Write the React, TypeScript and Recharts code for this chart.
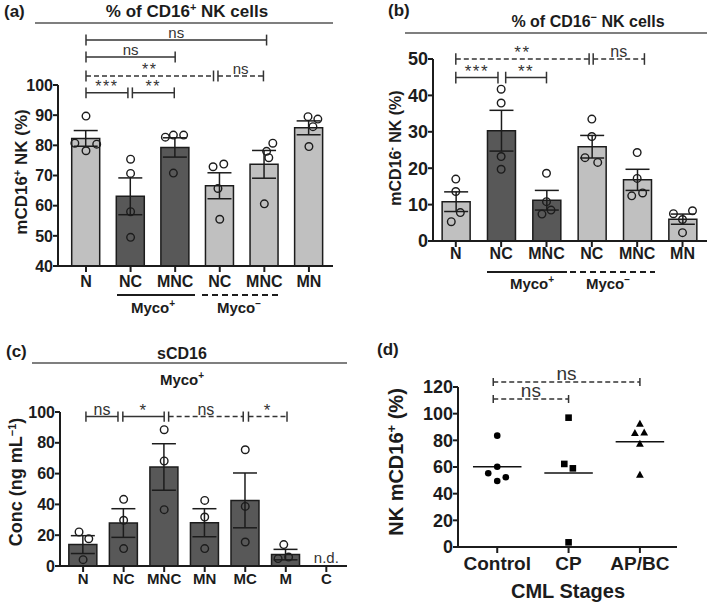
import React from 'react';
import { ComposedChart, Bar, Cell, ErrorBar, Scatter, XAxis, YAxis, ReferenceLine, ReferenceDot } from 'recharts';

const FONT = '"Liberation Sans", Arial, Helvetica, sans-serif';
const INK = '#1c1c1c';
const LINE = '#333333';
const LIGHT = '#c0c0c0';
const DARK = '#585858';

// ---------- (a) % of CD16+ NK cells ----------
const aCategories = ['N', 'NC', 'MNC', 'NC', 'MNC', 'MN'];
const aShades = ['light', 'dark', 'dark', 'light', 'light', 'light'];
const aMeans = [82.3, 63.1, 79.3, 66.6, 73.7, 85.8];
const aSem = [2.6, 6.1, 3.2, 4.3, 4.6, 2.3];
const aPoints = [
  [89.7, 80.7, 78.2, 80.4],
  [75.4, 70.7, 58.0, 49.5],
  [82.7, 83.4, 83.4, 70.8],
  [72.9, 73.8, 65.7, 55.5],
  [80.7, 78.0, 75.9, 60.6],
  [89.5, 88.7, 86.2, 79.6],
];
const aJitter = [
  [0, -0.25, 0, 0.24],
  [0, 0, 0, 0],
  [-0.22, -0.04, 0.19, -0.04],
  [-0.15, 0.09, -0.04, 0],
  [0.19, 0.05, 0.1, 0],
  [-0.02, 0.2, 0.09, 0],
];
const aBrackets = [
  { from: 0, to: 4.05, y: 114.9, text: 'ns', dashed: false },
  { from: 0, to: 2.0, y: 109.3, text: 'ns', dashed: false },
  { from: 0, to: 2.86, y: 103.0, text: '**', dashed: true },
  { from: 2.96, to: 3.98, y: 103.0, text: 'ns', dashed: true },
  { from: 0, to: 0.94, y: 97.4, text: '***', dashed: false },
  { from: 1.04, to: 1.98, y: 97.4, text: '**', dashed: false },
];
const aYTicks = [40, 50, 60, 70, 80, 90, 100];

// ---------- (b) % of CD16- NK cells ----------
const bCategories = ['N', 'NC', 'MNC', 'NC', 'MNC', 'MN'];
const bShades = ['light', 'dark', 'dark', 'light', 'light', 'light'];
const bMeans = [10.8, 30.3, 11.2, 25.9, 16.8, 6.0];
const bSem = [2.7, 5.6, 2.7, 3.1, 2.9, 1.4];
const bPoints = [
  [17.0, 13.6, 7.8, 5.3],
  [41.7, 37.9, 23.2, 19.7],
  [18.6, 10.8, 8.5, 7.4],
  [33.5, 28.7, 22.9, 21.6],
  [24.3, 17.2, 12.4, 13.2],
  [7.5, 8.3, 5.9, 2.3],
];
const bJitter = [
  [0, 0, 0.1, -0.1],
  [0, 0, 0, 0],
  [0, 0, 0.1, -0.1],
  [0, 0, -0.15, 0.13],
  [0, 0, -0.12, 0.12],
  [-0.2, 0.22, 0, 0],
];
const bBrackets = [
  { from: 0, to: 2.94, y: 50, text: '**', dashed: true },
  { from: 3.03, to: 4.16, y: 50, text: 'ns', dashed: true },
  { from: 0, to: 0.93, y: 44.9, text: '***', dashed: false },
  { from: 1.1, to: 2.0, y: 44.9, text: '**', dashed: false },
];
const bYTicks = [0, 10, 20, 30, 40, 50];

// ---------- (c) sCD16 ----------
const cCategories = ['N', 'NC', 'MNC', 'MN', 'MC', 'M', 'C'];
const cShades = ['dark', 'dark', 'dark', 'dark', 'dark', 'dark', 'dark'];
const cMeans = [13.9, 27.9, 64.3, 28.1, 42.6, 7.4, null];
const cSem = [5.8, 9.3, 15.1, 9.1, 17.8, 3.4, null];
const cPoints = [
  [22.1, 17.7, 4.1],
  [43.3, 29.7, 11.3],
  [88.5, 68.2, 36.6],
  [42.6, 31.8, 11.3],
  [75.5, 38.7, 15.6],
  [13.9, 4.8, 5.8],
  [],
];
const cJitter = [
  [-0.1, 0.14, 0],
  [0, 0, 0],
  [0, 0, 0],
  [0, 0, 0],
  [0, 0, 0],
  [-0.05, -0.19, 0.07],
  [],
];
const cBrackets = [
  { from: 0.07, to: 0.86, y: 97, text: 'ns', dashed: false },
  { from: 0.98, to: 2.0, y: 97, text: '*', dashed: false },
  { from: 2.11, to: 3.95, y: 97, text: 'ns', dashed: true },
  { from: 4.08, to: 5.03, y: 97, text: '*', dashed: true },
];
const cYTicks = [0, 20, 40, 60, 80, 100];

// ---------- (d) CML stages ----------
const dCategories = ['Control', 'CP', 'AP/BC'];
const dPoints = [
  [83.5, 60.2, 55.3, 49.5, 52.3],
  [97.0, 62.3, 59.0, 3.5],
  [92.2, 85.3, 85.8, 77.3, 54.0],
];
const dJitter = [
  [0, 0, -0.126, 0, 0.12],
  [0, -0.06, 0.06, 0],
  [0, -0.07, 0.06, 0, 0],
];
const dMarkers = ['circle', 'square', 'triangle'];
const dBrackets = [
  { from: -0.056, to: 2, y: 123.8, text: 'ns', dashed: true },
  { from: -0.056, to: 1, y: 111, text: 'ns', dashed: true },
];
const dYTicks = [0, 20, 40, 60, 80, 100, 120];

// ---------- helpers ----------
function barRows(means: (number | null)[], sems: (number | null)[]) {
  return means.map((m, i) => ({ x: i, mean: m, sem: sems[i] }));
}
function pointRows(points: number[][], jitter: number[][]) {
  const out: { x: number; y: number }[] = [];
  points.forEach((vals, i) => vals.forEach((v, j) => out.push({ x: i + jitter[i][j], y: v })));
  return out;
}
function mean(vals: number[]) {
  return vals.reduce((s, v) => s + v, 0) / vals.length;
}

const OpenCircle = (p: any) => (
  <circle cx={p.cx} cy={p.cy} r={3.8} fill="none" stroke={INK} strokeWidth={1.4} />
);

function bracketLines(list: any[], tickHalf: number, fontSize: number, prefix: string) {
  const out: any[] = [];
  list.forEach((b, i) => {
    const star = b.text.indexOf('*') >= 0;
    out.push(
      <ReferenceLine
        key={`${prefix}h${i}`}
        segment={[{ x: b.from, y: b.y }, { x: b.to, y: b.y }]}
        stroke={LINE}
        strokeWidth={1.5}
        strokeDasharray={b.dashed ? '5 3' : undefined}
        ifOverflow="visible"
        label={{
          value: b.text,
          position: 'top',
          offset: star ? 1 : 2,
          fill: LINE,
          fontSize: star ? fontSize + 1 : fontSize,
          fontFamily: FONT,
          letterSpacing: star ? 1.5 : 0,
        }}
      />
    );
    out.push(
      <ReferenceLine
        key={`${prefix}l${i}`}
        segment={[{ x: b.from, y: b.y - tickHalf }, { x: b.from, y: b.y + tickHalf }]}
        stroke={LINE}
        strokeWidth={1.5}
        ifOverflow="visible"
      />
    );
    out.push(
      <ReferenceLine
        key={`${prefix}r${i}`}
        segment={[{ x: b.to, y: b.y - tickHalf }, { x: b.to, y: b.y + tickHalf }]}
        stroke={LINE}
        strokeWidth={1.5}
        ifOverflow="visible"
      />
    );
  });
  return out;
}

const axisStroke = { stroke: INK, strokeWidth: 2 };

function BarPanel(cfg: any) {
  const bars = barRows(cfg.means, cfg.sems);
  const pts = pointRows(cfg.points, cfg.jitter);
  const ticks = cfg.cats.map((_: string, i: number) => i);
  return (
    <ComposedChart width={cfg.width} height={cfg.height} margin={cfg.margin} data={bars}>
      <XAxis
        type="number"
        dataKey="x"
        domain={cfg.xDomain}
        ticks={ticks}
        interval={0}
        tickFormatter={(v: number) => cfg.cats[v]}
        axisLine={axisStroke}
        tickLine={axisStroke}
        tickSize={6}
        tickMargin={cfg.catMargin}
        height={30}
        tick={{ fill: INK, fontSize: cfg.catSize, fontWeight: 700, fontFamily: FONT }}
      />
      <XAxis xAxisId="pts" type="number" dataKey="x" domain={cfg.xDomain} hide />
      <YAxis
        type="number"
        domain={cfg.yDomain}
        ticks={cfg.yTicks}
        interval={0}
        width={50}
        axisLine={axisStroke}
        tickLine={axisStroke}
        tickSize={5}
        tickMargin={0}
        tick={{ fill: INK, fontSize: cfg.numSize, fontWeight: 700, fontFamily: FONT }}
      />
      <Bar dataKey="mean" barSize={28} stroke={INK} strokeWidth={1.5} isAnimationActive={false}>
        {bars.map((_, i) => (
          <Cell key={`c${i}`} fill={cfg.shades[i] === 'dark' ? DARK : LIGHT} />
        ))}
        <ErrorBar dataKey="sem" width={12} stroke={INK} strokeWidth={1.5} direction="y" />
      </Bar>
      <Scatter xAxisId="pts" data={pts} dataKey="y" shape={OpenCircle} isAnimationActive={false} />
      {bracketLines(cfg.brackets, cfg.tickHalf, cfg.sigSize, cfg.prefix)}
      {cfg.extra}
    </ComposedChart>
  );
}

const Marker = (kind: string) => (p: any) => {
  const { cx, cy } = p;
  if (kind === 'square') return <rect x={cx - 3.3} y={cy - 3.3} width={6.6} height={6.6} fill="#000" />;
  if (kind === 'triangle')
    return <polygon points={`${cx},${cy - 4.2} ${cx + 3.9},${cy + 2.8} ${cx - 3.9},${cy + 2.8}`} fill="#000" />;
  return <circle cx={cx} cy={cy} r={3.3} fill="#000" />;
};

function ScatterPanel() {
  const groups = dPoints.map((vals, i) => vals.map((v, j) => ({ x: i + dJitter[i][j], y: v })));
  const ticks = dCategories.map((_, i) => i);
  return (
    <ComposedChart width={354} height={308} margin={{ top: 87, right: 32, bottom: 31, left: 53 }}>
      <XAxis
        type="number"
        dataKey="x"
        domain={[-0.55, 2.52]}
        ticks={ticks}
        interval={0}
        tickFormatter={(v: number) => dCategories[v]}
        axisLine={axisStroke}
        tickLine={axisStroke}
        tickSize={6}
        tickMargin={4}
        height={30}
        tick={{ fill: INK, fontSize: 19, fontWeight: 700, fontFamily: FONT }}
      />
      <YAxis
        type="number"
        domain={[0, 120]}
        ticks={dYTicks}
        interval={0}
        width={50}
        axisLine={axisStroke}
        tickLine={axisStroke}
        tickSize={5}
        tickMargin={0}
        tick={{ fill: INK, fontSize: 18, fontWeight: 700, fontFamily: FONT }}
      />
      {groups.map((g, i) => (
        <Scatter key={`s${i}`} data={g} dataKey="y" shape={Marker(dMarkers[i])} isAnimationActive={false} />
      ))}
      {dPoints.map((vals, i) => (
        <ReferenceLine
          key={`m${i}`}
          segment={[{ x: i - 0.34, y: mean(vals) }, { x: i + 0.34, y: mean(vals) }]}
          stroke="#111"
          strokeWidth={1.6}
          ifOverflow="visible"
        />
      ))}
      {bracketLines(dBrackets, 3, 19, 'd')}
    </ComposedChart>
  );
}

const bold = (size: number) => ({ fontFamily: FONT, fontWeight: 700, fontSize: size, fill: INK });

function Overlay() {
  return (
    <svg width={709} height={608} style={{ position: 'absolute', left: 0, top: 0, pointerEvents: 'none' }}>
      {/* (a) */}
      <text x={4} y={17} style={bold(17)}>(a)</text>
      <text x={187} y={17} textAnchor="middle" style={bold(17)}>
        % of CD16<tspan dy={-6} fontSize={11}>+</tspan>
        <tspan dy={6}> NK cells</tspan>
      </text>
      <line x1={35} x2={333} y1={23} y2={23} stroke="#555" strokeWidth={1.5} />
      <text transform="rotate(-90)" x={-172} y={27} textAnchor="middle" style={bold(17)}>
        mCD16<tspan dy={-6} fontSize={11}>+</tspan>
        <tspan dy={6}> NK (%)</tspan>
      </text>
      <line x1={117} x2={195} y1={295} y2={295} stroke={INK} strokeWidth={2} />
      <line x1={202} x2={282} y1={295} y2={295} stroke={INK} strokeWidth={2} strokeDasharray="6 4" />
      <text x={153} y={313} textAnchor="middle" style={bold(15)}>
        Myco<tspan dy={-6} fontSize={10}>+</tspan>
      </text>
      <text x={239} y={313} textAnchor="middle" style={bold(15)}>
        Myco<tspan dy={-6} fontSize={10}>−</tspan>
      </text>

      {/* (b) */}
      <text x={388} y={16} style={bold(17)}>(b)</text>
      <text x={588} y={27} textAnchor="middle" style={bold(16)}>
        % of CD16<tspan dy={-6} fontSize={11}>−</tspan>
        <tspan dy={6}> NK cells</tspan>
      </text>
      <line x1={405} x2={707} y1={33} y2={33} stroke="#555" strokeWidth={1.5} />
      <text transform="rotate(-90)" x={-148} y={401} textAnchor="middle" style={bold(16)}>
        mCD16<tspan dy={-6} fontSize={10}>-</tspan>
        <tspan dy={6}> NK (%)</tspan>
      </text>
      <line x1={487} x2={567} y1={272} y2={272} stroke={INK} strokeWidth={2} />
      <line x1={570} x2={655} y1={272} y2={272} stroke={INK} strokeWidth={2} strokeDasharray="6 4" />
      <text x={532} y={289} textAnchor="middle" style={bold(15)}>
        Myco<tspan dy={-6} fontSize={10}>+</tspan>
      </text>
      <text x={608} y={289} textAnchor="middle" style={bold(15)}>
        Myco<tspan dy={-6} fontSize={10}>−</tspan>
      </text>

      {/* (c) */}
      <text x={6} y={357} style={bold(17)}>(c)</text>
      <text x={182} y={359} textAnchor="middle" style={bold(16)}>sCD16</text>
      <line x1={32} x2={347} y1={363} y2={363} stroke="#555" strokeWidth={1.5} />
      <text x={182} y={385} textAnchor="middle" style={bold(15)}>
        Myco<tspan dy={-6} fontSize={10}>+</tspan>
      </text>
      <text transform="rotate(-90)" x={-482} y={22} textAnchor="middle" style={bold(18)}>
        Conc (ng mL<tspan dy={-6} fontSize={11}>−1</tspan>
        <tspan dy={6}>)</tspan>
      </text>

      {/* (d) */}
      <text x={377} y={355} style={bold(17)}>(d)</text>
      <text transform="rotate(-90)" x={-462} y={403} textAnchor="middle" style={bold(20)}>
        NK mCD16<tspan dy={-7} fontSize={13}>+</tspan>
        <tspan dy={7}> (%)</tspan>
      </text>
      <text x={568} y={598} textAnchor="middle" style={bold(20)}>CML Stages</text>
    </svg>
  );
}

export default function App() {
  return (
    <div style={{ position: 'absolute', left: 0, top: 0, width: 709, height: 608, background: '#fff', overflow: 'hidden' }}>
      <div style={{ position: 'absolute', left: 0, top: 0 }}>
        <BarPanel
          prefix="a"
          width={354}
          height={300}
          margin={{ top: 85, right: 21, bottom: 4, left: 8 }}
          cats={aCategories}
          shades={aShades}
          means={aMeans}
          sems={aSem}
          points={aPoints}
          jitter={aJitter}
          brackets={aBrackets}
          xDomain={[-0.628, 5.54]}
          yDomain={[40, 100]}
          yTicks={aYTicks}
          tickHalf={1.8}
          numSize={16}
          catSize={16}
          catMargin={4}
          sigSize={15}
        />
      </div>
      <div style={{ position: 'absolute', left: 355, top: 0 }}>
        <BarPanel
          prefix="b"
          width={354}
          height={300}
          margin={{ top: 59, right: 2, bottom: 29, left: 28 }}
          cats={bCategories}
          shades={bShades}
          means={bMeans}
          sems={bSem}
          points={bPoints}
          jitter={bJitter}
          brackets={bBrackets}
          xDomain={[-0.503, 5.54]}
          yDomain={[0, 50]}
          yTicks={bYTicks}
          tickHalf={1.6}
          numSize={18}
          catSize={16}
          catMargin={1}
          sigSize={16}
        />
      </div>
      <div style={{ position: 'absolute', left: 0, top: 300 }}>
        <BarPanel
          prefix="c"
          width={354}
          height={300}
          margin={{ top: 112, right: 7, bottom: 4, left: 10 }}
          cats={cCategories}
          shades={cShades}
          means={cMeans}
          sems={cSem}
          points={cPoints}
          jitter={cJitter}
          brackets={cBrackets}
          xDomain={[-0.57, 6.51]}
          yDomain={[0, 100]}
          yTicks={cYTicks}
          tickHalf={3.3}
          numSize={16}
          catSize={15}
          catMargin={1}
          sigSize={16}
          extra={
            <ReferenceDot
              x={6}
              y={0}
              r={0}
              ifOverflow="visible"
              label={{ value: 'n.d.', position: 'top', offset: 3, fill: LINE, fontSize: 15, fontFamily: FONT }}
            />
          }
        />
      </div>
      <div style={{ position: 'absolute', left: 355, top: 300 }}>
        <ScatterPanel />
      </div>
      <Overlay />
    </div>
  );
}
